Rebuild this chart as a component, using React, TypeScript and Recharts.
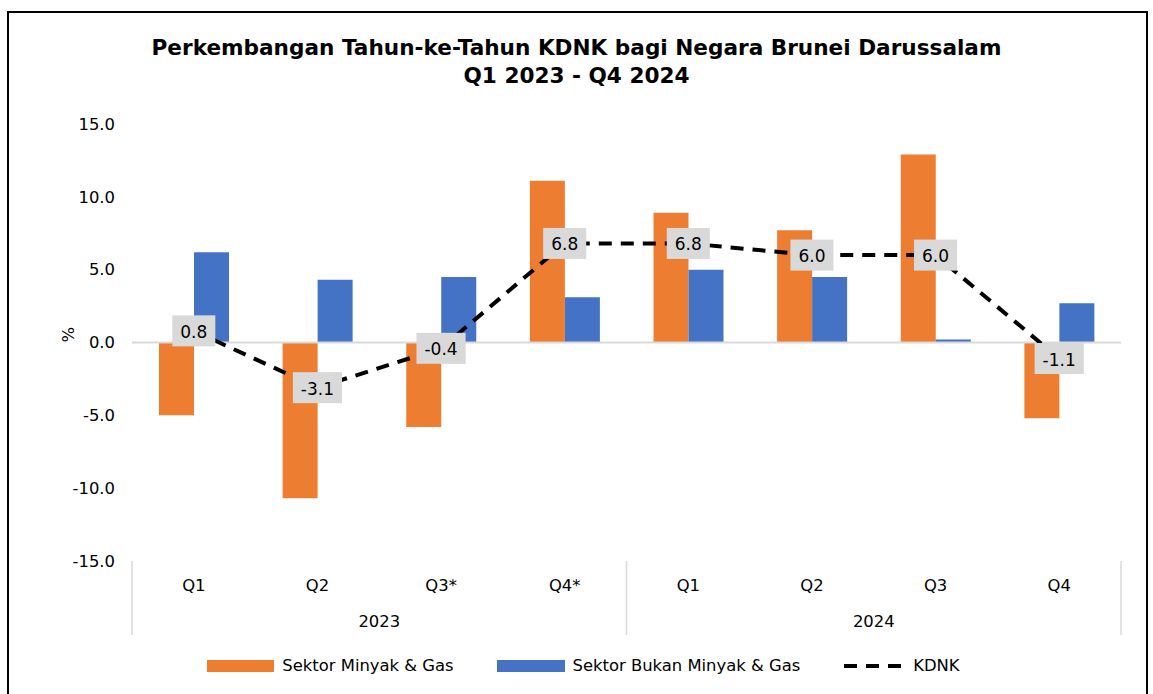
import React from "react";
import {
  ComposedChart,
  Bar,
  Line,
  XAxis,
  YAxis,
  ReferenceLine,
  LabelList,
} from "recharts";

if (typeof document !== "undefined") document.body.style.margin = "0";

const quarters  = ["Q1", "Q2", "Q3*", "Q4*", "Q1", "Q2", "Q3", "Q4"];
const years     = ["2023", "2023", "2023", "2023", "2024", "2024", "2024", "2024"];
const oilGas    = [-5.0, -10.7, -5.8, 11.1, 8.9, 7.7, 12.9, -5.2];
const nonOilGas = [6.2, 4.3, 4.5, 3.1, 5.0, 4.5, 0.2, 2.7];
const kdnk      = [0.8, -3.1, -0.4, 6.8, 6.8, 6.0, 6.0, -1.1];
const yTicks    = [-15, -10, -5, 0, 5, 10, 15];

const ORANGE = "#ED7D31";
const BLUE   = "#4472C4";
const GRID   = "#D9D9D9";
const FONT   = "'DejaVu Sans', sans-serif";

const W = 1153;
const H = 694;
const PLOT_L = 132;
const PLOT_R = 1121;
const PLOT_T = 124;
const PLOT_B = 561;
const X_AXIS_H = 80;
const Y_AXIS_W = 70;
const BAND = (PLOT_R - PLOT_L) / quarters.length;

const data = quarters.map((q, i) => ({
  id: `${years[i]}-${q}`,
  oil: oilGas[i],
  nonOil: nonOilGas[i],
  kdnk: kdnk[i],
}));

function QuarterTick({ x, payload, index }: any) {
  const i = payload?.index ?? index;
  const sepStyle = { stroke: GRID, strokeWidth: 1.5 };
  return (
    <g>
      <text x={x} y={585} textAnchor="middle" dominantBaseline="central"
        fontSize={16.4} fill="#000" fontFamily={FONT}>
        {quarters[i]}
      </text>
      {i % 4 === 1 && (
        <text x={x + BAND / 2} y={621} textAnchor="middle" dominantBaseline="central"
          fontSize={16.4} fill="#000" fontFamily={FONT}>
          {years[i]}
        </text>
      )}
      {i % 4 === 0 && (
        <line x1={x - BAND / 2} x2={x - BAND / 2} y1={PLOT_B} y2={635} {...sepStyle} />
      )}
      {i === quarters.length - 1 && (
        <line x1={x + BAND / 2} x2={x + BAND / 2} y1={PLOT_B} y2={635} {...sepStyle} />
      )}
    </g>
  );
}

// rough DejaVu Sans advance widths, in em
const charW = (c: string) => (c === "." ? 0.318 : c === "-" ? 0.361 : 0.636);

function KdnkLabel({ x, y, value }: any) {
  const txt = Number(value).toFixed(1);
  const fs = 17;
  const w = txt.split("").reduce((s, c) => s + charW(c) * fs, 0) + 16;
  const h = 31;
  return (
    <g>
      <rect x={x - w / 2} y={y - h / 2} width={w} height={h} fill={GRID} />
      <text x={x} y={y + 1} textAnchor="middle" dominantBaseline="central"
        fontSize={fs} fill="#000" fontFamily={FONT}>
        {txt}
      </text>
    </g>
  );
}

function ChartLegend() {
  const item = { display: "flex", alignItems: "center", gap: 8 } as const;
  return (
    <div style={{ position: "absolute", top: 656, left: 0, width: W, display: "flex",
      justifyContent: "center", gap: 43, fontFamily: FONT, fontSize: 16.4, color: "#000",
      lineHeight: "20px", paddingLeft: 14, boxSizing: "border-box" }}>
      <div style={item}>
        <span style={{ width: 67, height: 12, background: ORANGE, display: "inline-block" }} />
        Sektor Minyak &amp; Gas
      </div>
      <div style={item}>
        <span style={{ width: 68, height: 12, background: BLUE, display: "inline-block" }} />
        Sektor Bukan Minyak &amp; Gas
      </div>
      <div style={{ ...item, gap: 4 }}>
        <svg width={66} height={12}>
          <line x1={1} x2={65} y1={6} y2={6} stroke="#000" strokeWidth={4}
            strokeDasharray="13 9" />
        </svg>
        KDNK
      </div>
    </div>
  );
}

export default function App() {
  return (
    <div style={{ position: "relative", width: W, height: H, background: "#fff",
      overflow: "hidden", fontFamily: FONT }}>
      <div style={{ position: "absolute", left: 7, top: 11, width: W - 16, height: H,
        border: "2px solid #000" }} />
      <div style={{ position: "absolute", left: 0, top: 34, width: W, textAlign: "center",
        fontFamily: FONT, fontWeight: "bold", fontSize: 21.6,
        lineHeight: "28px", color: "#000" }}>
        Perkembangan Tahun-ke-Tahun KDNK bagi Negara Brunei Darussalam
        <br />
        Q1 2023 - Q4 2024
      </div>
      <ComposedChart
        width={W}
        height={H}
        data={data}
        margin={{
          top: PLOT_T,
          right: W - PLOT_R,
          bottom: H - PLOT_B - X_AXIS_H,
          left: PLOT_L - Y_AXIS_W,
        }}
        barGap={0}
        style={{ position: "absolute", left: 0, top: 0 }}
      >
        <XAxis dataKey="id" tick={<QuarterTick />} tickLine={false} axisLine={false}
          interval={0} height={X_AXIS_H} />
        <YAxis width={Y_AXIS_W} domain={[-15, 15]} ticks={yTicks} tickLine={false}
          axisLine={false} tickSize={0} tickMargin={17} interval={0}
          tickFormatter={(v: number) => v.toFixed(1)}
          tick={{ fill: "#000", fontSize: 16.4, fontFamily: FONT }}
          label={{ value: "%", angle: -90, position: "insideLeft", offset: 0, dx: 6,
            fill: "#000", fontSize: 16.4, fontFamily: FONT }} />
        <ReferenceLine y={0} stroke={GRID} strokeWidth={2} />
        <Bar dataKey="oil" name="Sektor Minyak & Gas" fill={ORANGE} barSize={35}
          isAnimationActive={false} />
        <Bar dataKey="nonOil" name="Sektor Bukan Minyak & Gas" fill={BLUE} barSize={35}
          isAnimationActive={false} />
        <Line dataKey="kdnk" name="KDNK" type="linear" stroke="#000" strokeWidth={4}
          strokeDasharray="13 9" dot={false} isAnimationActive={false}>
          <LabelList dataKey="kdnk" content={<KdnkLabel />} />
        </Line>
      </ComposedChart>
      <ChartLegend />
    </div>
  );
}
